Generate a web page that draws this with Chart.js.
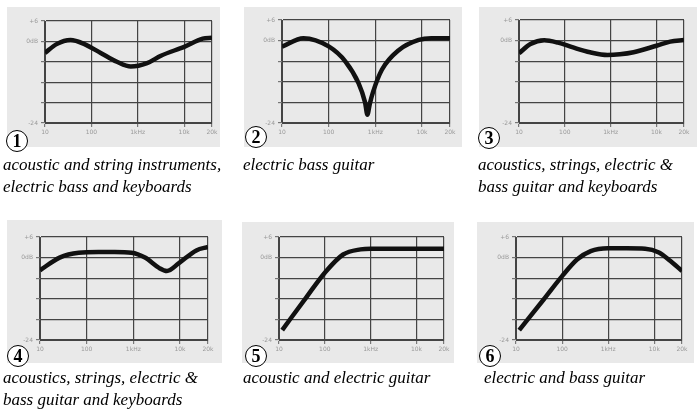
<!DOCTYPE html>
<html>
<head>
<meta charset="utf-8">
<script src="https://cdn.jsdelivr.net/npm/chart.js@4.4.0/dist/chart.umd.min.js"></script>
<style>
  body { margin: 0; background: #fff; width: 697px; height: 410px; overflow: hidden; position: relative; }
  .box { position: absolute; background: #e9e9e9; }
  .num { position: absolute; width: 20px; height: 20px; border: 1.7px solid #000; border-radius: 50%;
         background: #fff; font: bold 18px "Liberation Serif", serif; text-align: center; line-height: 21px; }
  .cap { position: absolute; font-family: "Liberation Serif", "Times New Roman", serif; font-style: italic;
         font-size: 17px; line-height: 22px; color: #000; white-space: nowrap; }
</style>
</head>
<body>
<script>
// x positions in decades: 1 = 10 Hz, 2 = 100 Hz, 3 = 1 kHz, 4 = 10 kHz, 4.6 = 20 kHz (as drawn)
const tickPositions = [1, 2, 3, 4, 4.6];
const tickLabels = ['10', '100', '1kHz', '10k', '20k'];
const dbLabels = { 6: '+6', 0: '0dB', '-24': '-24' };

const curve1Pos = [1, 1.25, 1.55, 1.85, 2.2, 2.55, 2.85, 3.2, 3.5, 4, 4.4, 4.6];
const curve1Db  = [-3.4, -0.8, 0.4, -0.8, -3.4, -6, -7.4, -6.4, -4.2, -1.6, 0.8, 1.1];

const curve2Pos = [1, 1.46, 2, 2.36, 2.64, 2.78, 2.83, 2.88, 2.95, 3.14, 3.5, 3.93, 4.2, 4.6];
const curve2Db  = [-1.8, 0.7, -1.7, -6.1, -12.4, -18, -21.6, -18.5, -15, -8.5, -2.8, 0.2, 0.7, 0.7];

const curve3Pos = [1, 1.25, 1.55, 1.85, 2.18, 2.55, 2.93, 3.2, 3.5, 4, 4.3, 4.6];
const curve3Db  = [-3.7, -1, 0.1, -0.6, -2, -3.4, -4.2, -4, -3.4, -1.5, -0.3, 0.2];

const curve4Pos = [1, 1.42, 1.83, 2.25, 2.6, 2.96, 3.25, 3.55, 3.72, 3.97, 4.35, 4.6];
const curve4Db  = [-3.7, 0, 1.4, 1.6, 1.6, 1.4, 0, -3, -3.9, -1.7, 2.1, 3.1];

const curve5Pos = [1.07, 1.6, 2, 2.4, 2.78, 3, 3.5, 4, 4.6];
const curve5Db  = [-21.1, -11.5, -4.4, 0.9, 2.4, 2.6, 2.6, 2.6, 2.6];

const curve6Pos = [1.07, 1.6, 2, 2.33, 2.62, 3, 3.4, 3.8, 4.1, 4.35, 4.6];
const curve6Db  = [-21.1, -12.2, -5.4, -0.5, 1.9, 2.7, 2.7, 2.6, 1.5, -1, -3.9];

const captions = [
  ['acoustic and string instruments,', 'electric bass and keyboards'],
  ['electric bass guitar'],
  ['acoustics, strings, electric &', 'bass guitar and keyboards'],
  ['acoustics, strings, electric &', 'bass guitar and keyboards'],
  ['acoustic and electric guitar'],
  ['electric and bass guitar']
];
const numbers = ['1', '2', '3', '4', '5', '6'];

// page layout: gray box, plot area, circled number, caption
const panels = [
  { box: [7, 7, 220, 147],   plot: [45, 21, 212, 123],  num: [6, 130],   cap: [3, 154] },
  { box: [244, 7, 462, 147], plot: [282, 20, 450, 123], num: [245, 126], cap: [243, 154] },
  { box: [479, 7, 697, 147], plot: [519, 20, 684, 123], num: [478, 127], cap: [478, 154] },
  { box: [7, 220, 222, 363], plot: [40, 237, 208, 340], num: [7, 345],   cap: [3, 367] },
  { box: [242, 222, 454, 363], plot: [279, 237, 444, 340], num: [245, 345], cap: [243, 367] },
  { box: [477, 222, 694, 363], plot: [516, 237, 682, 340], num: [479, 345], cap: [484, 367] }
];
const curves = [
  [curve1Pos, curve1Db], [curve2Pos, curve2Db], [curve3Pos, curve3Db],
  [curve4Pos, curve4Db], [curve5Pos, curve5Db], [curve6Pos, curve6Db]
];

panels.forEach((p, i) => {
  const [bx0, by0, bx1, by1] = p.box;
  const [px0, py0, px1, py1] = p.plot;

  const canvas = document.createElement('canvas');
  canvas.className = 'box';
  canvas.style.left = bx0 + 'px';
  canvas.style.top = by0 + 'px';
  canvas.width = bx1 - bx0;
  canvas.height = by1 - by0;
  canvas.style.width = (bx1 - bx0) + 'px';
  canvas.style.height = (by1 - by0) + 'px';
  document.body.appendChild(canvas);

  const [xs, ys] = curves[i];
  new Chart(canvas.getContext('2d'), {
    type: 'line',
    data: {
      datasets: [{
        data: xs.map((x, k) => ({ x: x, y: ys[k] })),
        borderColor: '#111',
        borderWidth: 4.5,
        pointRadius: 0,
        cubicInterpolationMode: 'monotone'
      }]
    },
    options: {
      responsive: false,
      animation: false,
      events: [],
      layout: { padding: { top: py0 - by0, right: bx1 - px1, left: 0, bottom: 0 } },
      plugins: { legend: { display: false }, tooltip: { enabled: false } },
      scales: {
        x: {
          type: 'linear', min: 1, max: 4.6,
          afterBuildTicks: s => { s.ticks = tickPositions.map(v => ({ value: v })); },
          afterFit: s => { s.height = by1 - py1; },
          ticks: {
            autoSkip: false, maxRotation: 0, padding: 2,
            color: '#999', font: { size: 6, family: 'DejaVu Sans' },
            callback: v => tickLabels[tickPositions.indexOf(v)]
          },
          grid: { color: '#444', lineWidth: 1.2, tickLength: 4, tickColor: '#777' },
          border: { color: '#444' }
        },
        y: {
          min: -24, max: 6,
          afterFit: s => { s.width = px0 - bx0; },
          ticks: {
            stepSize: 6, padding: 3,
            color: '#999', font: { size: 6, family: 'DejaVu Sans' },
            callback: v => dbLabels[v] || ''
          },
          grid: { color: '#444', lineWidth: 1.2, tickLength: 4, tickColor: '#777' },
          border: { color: '#444' }
        }
      }
    }
  });

  const n = document.createElement('div');
  n.className = 'num';
  n.style.left = p.num[0] + 'px';
  n.style.top = p.num[1] + 'px';
  n.textContent = numbers[i];
  document.body.appendChild(n);

  const c = document.createElement('div');
  c.className = 'cap';
  c.style.left = p.cap[0] + 'px';
  c.style.top = p.cap[1] + 'px';
  c.innerHTML = captions[i].join('<br>');
  document.body.appendChild(c);
});
</script>
</body>
</html>
